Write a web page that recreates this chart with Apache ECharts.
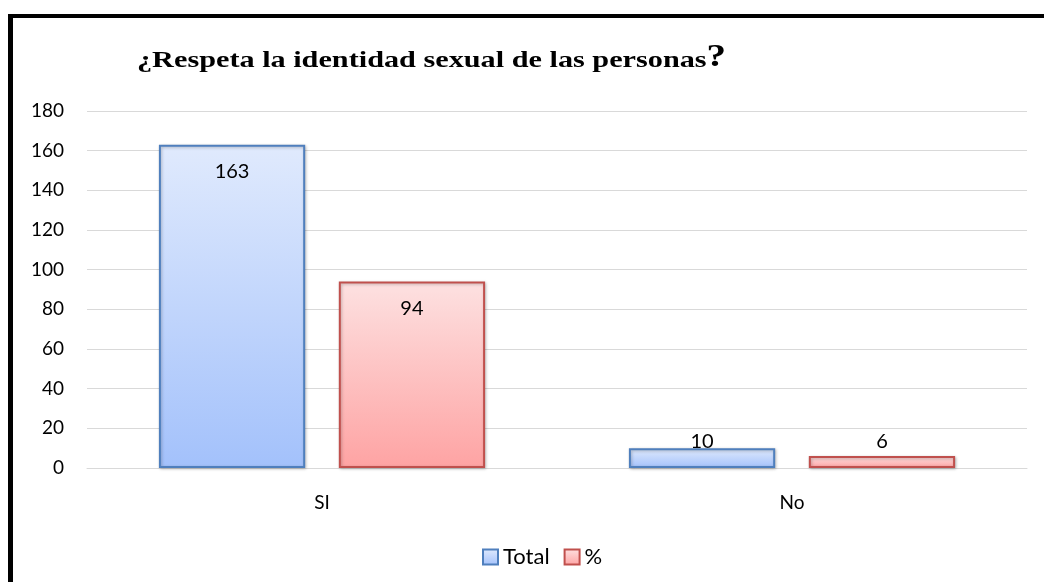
<!DOCTYPE html>
<html>
<head>
<meta charset="utf-8">
<script src="https://cdn.jsdelivr.net/npm/echarts@6/dist/echarts.min.js"></script>
<style>
  html, body { margin: 0; padding: 0; background: #fff; }
  #main { width: 1044px; height: 582px; }
</style>
</head>
<body>
<div id="main"></div>
<script>
// data
var categories = ['SI', 'No'];
var totalValues = [163, 10];
var percentValues = [94, 6];
var yTicks = [0, 20, 40, 60, 80, 100, 120, 140, 160, 180];

var chart = echarts.init(document.getElementById('main'));

function grad(top, bottom) {
    return new echarts.graphic.LinearGradient(0, 0, 0, 1, [
        { offset: 0, color: top },
        { offset: 1, color: bottom }
    ]);
}

// small bars get their label above the bar, like Excel does
function withLabels(values) {
    return values.map(function (v) {
        if (v < 20) {
            return { value: v, label: { position: 'top', distance: v < 8 ? 5 : -3 } };
        }
        return v;
    });
}

var sans = 'Lato, "Noto Sans", sans-serif';
var serif = '"Liberation Serif", "Times New Roman", serif';
var labelFont = { fontFamily: sans, fontSize: 20, color: '#000' };

var option = {
    backgroundColor: '#fff',
    animation: false,
    graphic: [
        // the black frame around the chart (left and top edges show)
        { type: 'rect', shape: { x: 8, y: 14, width: 5, height: 600 }, style: { fill: '#000' }, silent: true },
        { type: 'rect', shape: { x: 8, y: 14, width: 1100, height: 4 }, style: { fill: '#000' }, silent: true },
        // title, stretched wide like in the original
        {
            type: 'text',
            x: 137,
            y: 42,
            scaleX: 1.26,
            silent: true,
            style: {
                text: '{m|¿Respeta la identidad sexual de las personas}{q|?}',
                rich: {
                    m: { fontFamily: serif, fontWeight: 'bold', fontSize: 24, fill: '#000', verticalAlign: 'bottom' },
                    q: { fontFamily: serif, fontWeight: 'bold', fontSize: 31, fill: '#000', verticalAlign: 'bottom' }
                }
            }
        }
    ],
    legend: {
        top: 541,
        left: 477,
        icon: 'rect',
        itemWidth: 15,
        itemHeight: 15,
        itemGap: 14,
        textStyle: { fontFamily: sans, fontSize: 22, color: '#000' },
        data: ['Total', '%']
    },
    grid: { left: 87, right: 17, top: 111, bottom: 114, containLabel: false },
    xAxis: {
        type: 'category',
        data: categories,
        axisLine: { lineStyle: { color: '#d9d9d9', width: 1 } },
        axisTick: { show: false },
        axisLabel: { fontFamily: sans, fontSize: 19, color: '#000', margin: 25 }
    },
    yAxis: {
        type: 'value',
        min: yTicks[0],
        max: yTicks[yTicks.length - 1],
        interval: 20,
        axisLine: { show: false },
        axisTick: { show: false },
        splitLine: { lineStyle: { color: '#d9d9d9', width: 1 } },
        axisLabel: { fontFamily: sans, fontSize: 19, color: '#000', margin: 23 }
    },
    series: [
        {
            name: 'Total',
            type: 'bar',
            data: withLabels(totalValues),
            barGap: '23%',
            barCategoryGap: '30.6%',
            itemStyle: {
                color: grad('#e0eafd', '#a3c1fb'),
                borderColor: '#4f7fbd',
                borderWidth: 2,
                shadowColor: 'rgba(0,0,0,0.25)',
                shadowBlur: 3,
                shadowOffsetX: 1,
                shadowOffsetY: 1
            },
            label: Object.assign({ show: true, position: 'insideTop', distance: 17 }, labelFont)
        },
        {
            name: '%',
            type: 'bar',
            data: withLabels(percentValues),
            itemStyle: {
                color: grad('#fde1e1', '#fea3a3'),
                borderColor: '#c0504d',
                borderWidth: 2,
                shadowColor: 'rgba(0,0,0,0.25)',
                shadowBlur: 3,
                shadowOffsetX: 1,
                shadowOffsetY: 1
            },
            label: Object.assign({ show: true, position: 'insideTop', distance: 17 }, labelFont)
        }
    ]
};

chart.setOption(option);
window.addEventListener('resize', function () {
    chart.resize();
});
</script>
</body>
</html>
